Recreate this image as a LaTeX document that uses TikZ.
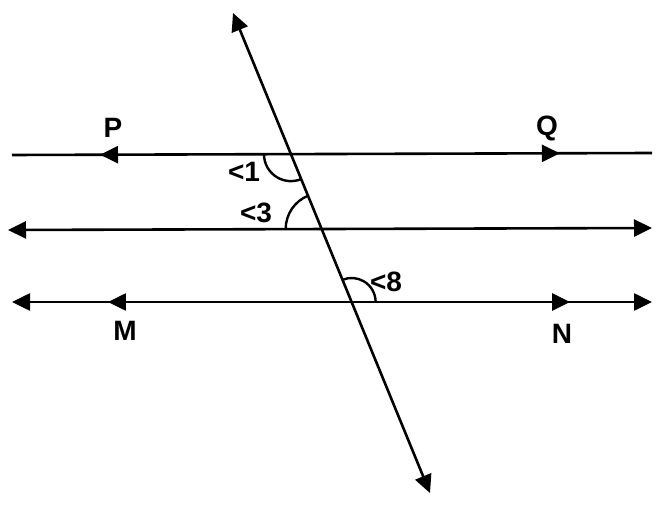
\documentclass[tikz,border=0pt]{standalone}
\usepackage{fontspec}
\setmainfont{Liberation Sans}
\usetikzlibrary{arrows.meta,decorations.markings}
\tikzset{
  ln/.style={line width=2.6pt},
  tip/.tip={Triangle[length=18pt,width=17pt]},
  lbl/.style={font=\fontsize{28}{30}\selectfont\bfseries, inner sep=0pt},
  arcline/.style={line width=2.4pt},
  midarrows/.style n args={2}{postaction={decorate,decoration={markings,
     mark=at position #1 with {\arrowreversed{tip}},
     mark=at position #2 with {\arrow{tip}}}}}
}
\begin{document}
\begin{tikzpicture}[x=1pt,y=1pt]
\useasboundingbox (0,0) rectangle (660,506);
% end points
\coordinate (PL) at (12,351);
\coordinate (QR) at (652,353);
\coordinate (AL) at (8,276);
\coordinate (AR) at (652,278);
\coordinate (ML) at (12,204);
\coordinate (NR) at (652,204);
\coordinate (TT) at (233,493);
\coordinate (TB) at (430,13);
% lines
\draw[ln, midarrows={0.1375}{0.856}] (PL) -- (QR);
\draw[ln, tip-tip] (AL) -- (AR);
\draw[ln, tip-tip, midarrows={0.15}{0.872}] (ML) -- (NR);
\draw[ln, tip-tip] (TT) -- (TB);
% intersections
\coordinate (X1) at (intersection of PL--QR and TT--TB);
\coordinate (X3) at (intersection of AL--AR and TT--TB);
\coordinate (X8) at (intersection of ML--NR and TT--TB);
% angle arcs
\draw[arcline] ([shift={(180:27)}]X1) arc[start angle=180,end angle=292.3,radius=27];
\draw[arcline] ([shift={(112.3:36)}]X3) arc[start angle=112.3,end angle=180,radius=36];
\draw[arcline] ([shift={(0:24)}]X8) arc[start angle=0,end angle=112.3,radius=24];
% labels
\node[lbl] (l1) at (244,334) {<1};
\node[lbl] (l3) at (256,293) {<3};
\node[lbl] (l8) at (386,224) {<8};
\node[lbl] (P) at (113,378) {P};
\node[lbl] (Q) at (547,378) {Q};
\node[lbl] (M) at (125,175) {M};
\node[lbl] (N) at (562,172) {N};
\end{tikzpicture}
\end{document}
